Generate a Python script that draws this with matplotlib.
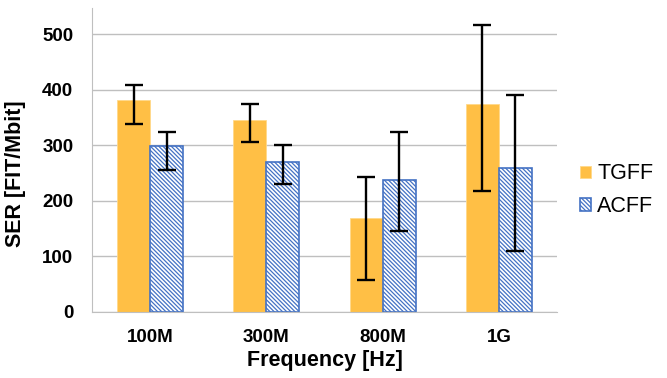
import numpy as np
import matplotlib.pyplot as plt

# SER per clock frequency, mean and error bar ends
freqs = ["100M", "300M", "800M", "1G"]
tgff = [381, 345, 169, 375]
tgff_hi = [408, 375, 243, 516]
tgff_lo = [339, 305, 58, 218]
acff = [298, 269, 238, 259]
acff_hi = [324, 300, 324, 390]
acff_lo = [255, 230, 146, 110]

plt.rcParams['font.family'] = ['Liberation Sans', 'DejaVu Sans']
plt.rcParams['hatch.color'] = '#4472C4'
plt.rcParams['hatch.linewidth'] = 0.9

fig = plt.figure(figsize=(6.67, 3.78), dpi=100)
ax = fig.add_axes([0.138, 0.175, 0.697, 0.804])

x = np.arange(len(freqs))
w = 0.284

def errs(mid, lo, hi):
    return [np.subtract(mid, lo), np.subtract(hi, mid)]

ax.bar(x - w / 2, tgff, w, color='#FFBF45', edgecolor='#FFD98A', linewidth=0.6,
       label='TGFF', zorder=2)
ax.bar(x + w / 2, acff, w, color='white', edgecolor='#4472C4', linewidth=1.2,
       hatch='\\' * 8, label='ACFF', zorder=2)

ekw = dict(fmt='none', ecolor='black', elinewidth=1.7, capsize=6.5, capthick=1.7, zorder=3)
ax.errorbar(x - w / 2, tgff, yerr=errs(tgff, tgff_lo, tgff_hi), **ekw)
ax.errorbar(x + w / 2, acff, yerr=errs(acff, acff_lo, acff_hi), **ekw)

ax.set_xlim(-0.5, len(freqs) - 0.5)
ax.set_ylim(0, 547)
ax.set_yticks([0, 100, 200, 300, 400, 500])
ax.set_xticks(x)
ax.set_xticklabels(freqs)
ax.yaxis.grid(True, color='#BFBFBF', linewidth=1)
ax.set_axisbelow(True)
for s in ['top', 'right']:
    ax.spines[s].set_visible(False)
ax.spines['left'].set_color('#BFBFBF')
ax.spines['bottom'].set_color('#BFBFBF')
ax.tick_params(length=0, labelsize=13.5)
ax.tick_params(axis='x', pad=12.5)
ax.tick_params(axis='y', pad=13.5)
for lab in ax.get_xticklabels() + ax.get_yticklabels():
    lab.set_fontweight('bold')

ax.set_xlabel('Frequency [Hz]', fontsize=15.5, fontweight='bold', labelpad=3)
ax.set_ylabel('SER [FIT/Mbit]', fontsize=15.5, fontweight='bold')
ax.yaxis.set_label_coords(-0.143, 0.454)

ax.legend(loc='center left', bbox_to_anchor=(1.008, 0.40), frameon=False,
          fontsize=15.5, handlelength=0.5, handleheight=0.5, handletextpad=0.3,
          labelspacing=0.55)

fig.savefig('out.png', dpi=100)
